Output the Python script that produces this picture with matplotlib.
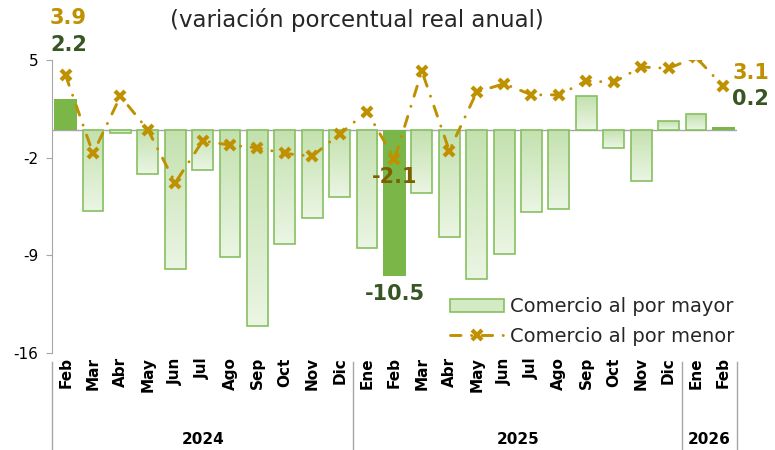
import matplotlib
matplotlib.use("Agg")
import matplotlib.pyplot as plt
import numpy as np
from matplotlib.colors import LinearSegmentedColormap
from matplotlib.patches import Rectangle
from matplotlib.lines import Line2D
from matplotlib.legend_handler import HandlerBase

meses = ["Feb", "Mar", "Abr", "May", "Jun", "Jul", "Ago", "Sep", "Oct", "Nov", "Dic",
         "Ene", "Feb", "Mar", "Abr", "May", "Jun", "Jul", "Ago", "Sep", "Oct", "Nov", "Dic",
         "Ene", "Feb"]
anios = ["2024", "2025", "2026"]
meses_por_anio = [11, 12, 2]

mayor = [2.2, -5.8, -0.2, -3.2, -10.0, -2.9, -9.1, -14.1, -8.2, -6.3, -4.8,
         -8.5, -10.5, -4.5, -7.7, -10.7, -8.9, -5.9, -5.7, 2.4, -1.3, -3.7, 0.6,
         1.1, 0.2]
menor = [3.9, -1.7, 2.4, 0.0, -3.8, -0.8, -1.1, -1.3, -1.7, -1.9, -0.3,
         1.3, -2.1, 4.2, -1.5, 2.7, 3.3, 2.5, 2.5, 3.5, 3.4, 4.5, 4.4,
         5.2, 3.1]
destacados = [0, 12, 24]

c_linea = "#BF9000"
c_verde = "#7AB648"
c_verde_osc = "#375623"
grad = LinearSegmentedColormap.from_list("g", ["#EBF5E4", "#C3E1AE"])
estilo = (0, (3.6, 3.6, 0.05, 3.6))

fig = plt.figure(figsize=(7.75, 4.5), dpi=100)
ax = fig.add_axes([0.067, 0.2156, 0.884, 0.6511])

x = np.arange(len(meses))
ax.set_xlim(-0.5, len(meses) - 0.5)
ax.set_ylim(-16, 5)

gimg = np.linspace(0, 1, 100).reshape(-1, 1)
for i, v in enumerate(mayor):
    if i in destacados:
        ax.bar(i, v, width=0.82, color=c_verde, edgecolor="none", zorder=2)
    else:
        b = ax.bar(i, v, width=0.76, color="none", edgecolor="#86C060", linewidth=1.2, zorder=3)[0]
        lo, hi = min(0, v), max(0, v)
        im = ax.imshow(gimg, cmap=grad, aspect="auto", origin="lower",
                       extent=[i - 0.38, i + 0.38, lo, hi], zorder=2)
        im.set_clip_path(b)

ax.axhline(0, color="#A6A6A6", lw=1, zorder=1)

ax.plot(x, menor, color=c_linea, lw=2.1, linestyle=estilo,
        dash_capstyle="round", marker="x", markersize=7, mew=3, zorder=5)

ax.set_xticks([])
ax.set_yticks([5, -2, -9, -16])
ax.set_yticklabels(["5", "-2", "-9", "-16"], fontsize=11)
ax.tick_params(axis="y", length=4, color="#A6A6A6", pad=6)
for s in ["top", "right", "bottom"]:
    ax.spines[s].set_visible(False)
ax.spines["left"].set_color("#A6A6A6")
ax.spines["left"].set_bounds(-16, 5)
ax.patch.set_alpha(0)

# etiquetas de meses
for i, m in enumerate(meses):
    ax.text(i, -16.3, m, rotation=90, ha="center", va="top", fontsize=11,
            fontweight="bold", color="black", clip_on=False)

# grupos de anios
ytrans = ax.get_xaxis_transform()
bounds = [-0.5]
for n in meses_por_anio:
    bounds.append(bounds[-1] + n)
for b in bounds:
    ax.plot([b, b], [-0.03, -0.34], color="#A6A6A6", lw=1, transform=ytrans, clip_on=False)
for k, a in enumerate(anios):
    ax.text((bounds[k] + bounds[k + 1]) / 2, -0.295, a, ha="center", va="center",
            fontsize=11, fontweight="bold", transform=ytrans)

# etiquetas de datos
ax.text(0.1, 6.1, "2.2", color=c_verde_osc, fontsize=15, fontweight="bold", ha="center", va="center", clip_on=False)
ax.text(0.1, 8.0, "3.9", color=c_linea, fontsize=15, fontweight="bold", ha="center", va="center", clip_on=False)
ax.text(12.0, -3.4, "-2.1", color="#7F6000", fontsize=15, fontweight="bold", ha="center", va="center", zorder=6)
ax.text(12.0, -11.8, "-10.5", color=c_verde_osc, fontsize=15, fontweight="bold", ha="center", va="center")
ax.text(25.0, 4.1, "3.1", color=c_linea, fontsize=15, fontweight="bold", ha="center", va="center", clip_on=False)
ax.text(25.0, 2.2, "0.2", color=c_verde_osc, fontsize=15, fontweight="bold", ha="center", va="center", clip_on=False)

fig.text(0.461, 0.955, "(variación porcentual real anual)", ha="center", va="center",
         fontsize=16.5, color="#262626")


class GradHandler(HandlerBase):
    def create_artists(self, legend, orig, xd, yd, w, h, fontsize, trans):
        r = Rectangle((xd, yd), w, h, facecolor="#D3EAC4", edgecolor="#86C060", lw=1.2, transform=trans)
        return [r]


h_bar = Rectangle((0, 0), 1, 1)
h_line = Line2D([], [], color=c_linea, lw=2.1, linestyle=estilo, dash_capstyle="round",
                marker="x", markersize=7, mew=3)
leg = fig.legend([h_bar, h_line], ["Comercio al por mayor", "Comercio al por menor"],
                 loc="center left", bbox_to_anchor=(0.558, 0.285), frameon=False,
                 fontsize=14, handlelength=2.8, handletextpad=0.3, labelspacing=0.55,
                 handler_map={Rectangle: GradHandler()})
for t in leg.get_texts():
    t.set_color("#262626")

fig.savefig("out.png", dpi=100)
